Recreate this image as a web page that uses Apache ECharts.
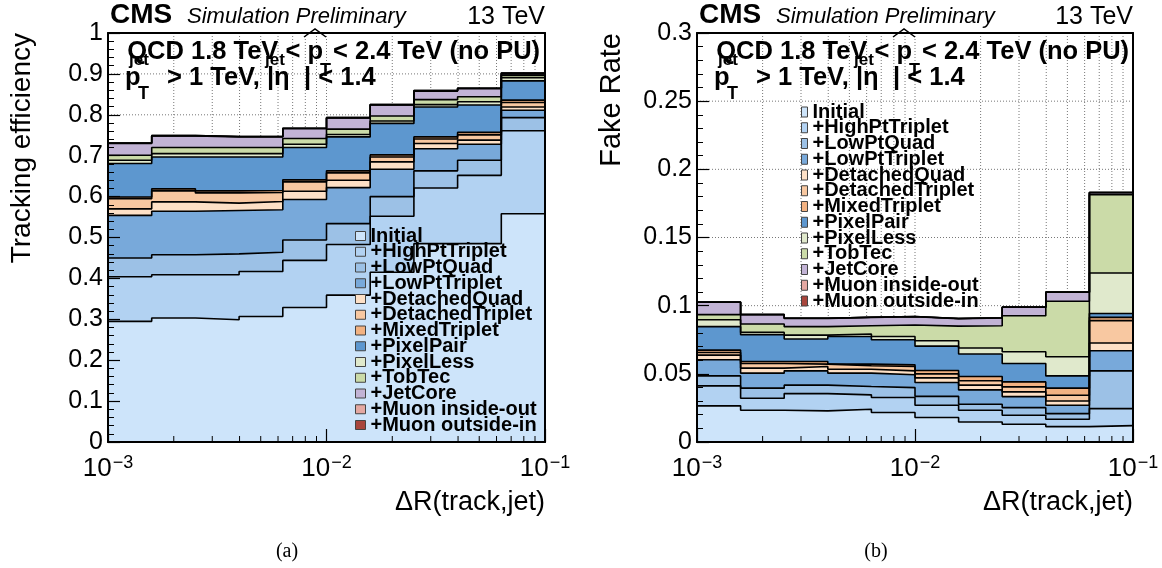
<!DOCTYPE html>
<html><head><meta charset="utf-8">
<script src="https://cdn.jsdelivr.net/npm/echarts@6/dist/echarts.min.js"></script>
<style>html,body{margin:0;padding:0;background:#fff}#c{width:1162px;height:568px}</style>
</head><body><div id="c"></div>
<script>
// ---- data ----
const binEdges = [0.001, 0.001585, 0.002512, 0.003981, 0.006310, 0.01, 0.01585, 0.02512, 0.03981, 0.06310, 0.1];
const iterations = ['Initial', '+HighPtTriplet', '+LowPtQuad', '+LowPtTriplet', '+DetachedQuad', '+DetachedTriplet',
  '+MixedTriplet', '+PixelPair', '+PixelLess', '+TobTec', '+JetCore', '+Muon inside-out', '+Muon outside-in'];
const iterationColors = ['#cde4fa', '#b2d2f2', '#9cc1e6', '#78a9da', '#fde0c6', '#f8c8a1', '#f2b282',
  '#5d97cf', '#e0e9cc', '#cbdba8', '#c2b3d5', '#e4a8a2', '#a8453c'];

// cumulative tracking efficiency after each iteration (panel a)
const effInitial         = [0.295, 0.303, 0.299, 0.307, 0.329, 0.359, 0.415, 0.485, 0.485, 0.558];
const effHighPtTriplet   = [0.404, 0.409, 0.409, 0.417, 0.444, 0.483, 0.552, 0.621, 0.652, 0.761];
const effLowPtQuad       = [0.450, 0.458, 0.460, 0.464, 0.494, 0.534, 0.600, 0.663, 0.689, 0.793];
const effLowPtTriplet    = [0.554, 0.564, 0.566, 0.568, 0.593, 0.622, 0.667, 0.717, 0.728, 0.811];
const effDetachedQuad    = [0.570, 0.587, 0.584, 0.588, 0.613, 0.640, 0.685, 0.730, 0.738, 0.819];
const effDetachedTriplet = [0.595, 0.614, 0.609, 0.610, 0.636, 0.658, 0.697, 0.741, 0.751, 0.830];
const effMixedTriplet    = [0.599, 0.619, 0.614, 0.615, 0.641, 0.663, 0.702, 0.746, 0.757, 0.836];
const effPixelPair       = [0.681, 0.697, 0.697, 0.697, 0.720, 0.746, 0.779, 0.819, 0.824, 0.883];
const effPixelLess       = [0.689, 0.705, 0.705, 0.705, 0.728, 0.752, 0.785, 0.825, 0.832, 0.891];
const effTobTec          = [0.701, 0.720, 0.720, 0.720, 0.742, 0.765, 0.797, 0.837, 0.844, 0.897];
const effJetCore         = [0.730, 0.748, 0.746, 0.746, 0.766, 0.792, 0.824, 0.858, 0.864, 0.900];
const effMuonInsideOut   = [0.731, 0.749, 0.747, 0.747, 0.767, 0.793, 0.825, 0.859, 0.865, 0.902];
const effMuonOutsideIn   = [0.731, 0.749, 0.747, 0.747, 0.767, 0.793, 0.825, 0.859, 0.865, 0.902];

// cumulative fake rate after each iteration (panel b)
const fakeInitial         = [0.0265, 0.0233, 0.0228, 0.0240, 0.0216, 0.0180, 0.0147, 0.0130, 0.0113, 0.0120];
const fakeHighPtTriplet   = [0.0412, 0.0321, 0.0355, 0.0346, 0.0326, 0.0270, 0.0233, 0.0196, 0.0167, 0.0245];
const fakeLowPtQuad       = [0.0485, 0.0395, 0.0417, 0.0407, 0.0399, 0.0335, 0.0277, 0.0252, 0.0208, 0.0522];
const fakeLowPtTriplet    = [0.0603, 0.0505, 0.0522, 0.0505, 0.0493, 0.0436, 0.0382, 0.0333, 0.0270, 0.0669];
const fakeDetachedQuad    = [0.0637, 0.0542, 0.0554, 0.0534, 0.0522, 0.0470, 0.0417, 0.0368, 0.0301, 0.0726];
const fakeDetachedTriplet = [0.0657, 0.0576, 0.0571, 0.0559, 0.0554, 0.0500, 0.0449, 0.0404, 0.0343, 0.0890];
const fakeMixedTriplet    = [0.0674, 0.0591, 0.0591, 0.0571, 0.0566, 0.0525, 0.0480, 0.0441, 0.0395, 0.0914];
const fakePixelPair       = [0.0846, 0.0787, 0.0755, 0.0774, 0.0750, 0.0703, 0.0645, 0.0576, 0.0485, 0.0943];
const fakePixelLess       = [0.0897, 0.0804, 0.0784, 0.0792, 0.0774, 0.0743, 0.0689, 0.0662, 0.0625, 0.1240];
const fakeTobTec          = [0.0934, 0.0865, 0.0846, 0.0853, 0.0858, 0.0850, 0.0853, 0.0926, 0.1032, 0.1814];
const fakeJetCore         = [0.1025, 0.0934, 0.0907, 0.0914, 0.0919, 0.0905, 0.0910, 0.0988, 0.1098, 0.1829];
const fakeMuonInsideOut   = [0.1026, 0.0935, 0.0908, 0.0915, 0.0920, 0.0906, 0.0911, 0.0989, 0.1099, 0.1830];
const fakeMuonOutsideIn   = [0.1026, 0.0935, 0.0908, 0.0915, 0.0920, 0.0906, 0.0911, 0.0989, 0.1099, 0.1830];

const effLayers = [effInitial, effHighPtTriplet, effLowPtQuad, effLowPtTriplet, effDetachedQuad, effDetachedTriplet,
  effMixedTriplet, effPixelPair, effPixelLess, effTobTec, effJetCore, effMuonInsideOut, effMuonOutsideIn];
const fakeLayers = [fakeInitial, fakeHighPtTriplet, fakeLowPtQuad, fakeLowPtTriplet, fakeDetachedQuad, fakeDetachedTriplet,
  fakeMixedTriplet, fakePixelPair, fakePixelLess, fakeTobTec, fakeJetCore, fakeMuonInsideOut, fakeMuonOutsideIn];

// ---- chart ----
const F = 'Liberation Sans, Arial, Helvetica, sans-serif';
const chart = echarts.init(document.getElementById('c'), null, {renderer: 'canvas'});

function stepPoints(vals) {
  const pts = vals.map((v, i) => [binEdges[i], v]);
  pts.push([binEdges[binEdges.length - 1], vals[vals.length - 1]]);
  return pts;
}
// log-axis grid/tick positions (2..9 per decade)
const minorX = [];
for (let d = -3; d < -1; d++) for (let k = 2; k <= 9; k++) minorX.push(+(k * Math.pow(10, d)).toPrecision(3));
const gridX = minorX.concat([0.01]);

const panels = [
  {layers: effLayers, yMax: 1, yStep: 0.1},
  {layers: fakeLayers, yMax: 0.3, yStep: 0.05}
];
const grids = [
  {left: 108, right: 617, top: 33, bottom: 126},
  {left: 697, right: 29, top: 33, bottom: 126}
];
const axisLineStyle = {color: '#000', width: 2};
const xAxis = [], yAxis = [], series = [];
panels.forEach((p, gi) => {
  xAxis.push({
    type: 'log', logBase: 10, gridIndex: gi, position: 'bottom', min: 0.001, max: 0.1, z: 10,
    axisLine: {show: true, onZero: false, lineStyle: axisLineStyle},
    axisTick: {show: true, inside: true, length: 13, lineStyle: {color: '#000', width: 1.2}},
    axisLabel: {
      margin: 12, color: '#000', showMinLabel: true, showMaxLabel: true,
      formatter: v => '{b|10}{s|\u2212' + (-Math.round(Math.log10(v))) + '}',
      rich: {
        b: {fontFamily: F, fontSize: 26, lineHeight: 28, verticalAlign: 'bottom', color: '#000'},
        s: {fontFamily: F, fontSize: 18, lineHeight: 18, verticalAlign: 'top', color: '#000', padding: [0, 0, 0, 1]}
      }
    },
    splitLine: {show: false}
  });
  xAxis.push({
    type: 'log', logBase: 10, gridIndex: gi, position: 'top', min: 0.001, max: 0.1, z: 10,
    axisLine: {show: true, onZero: false, lineStyle: axisLineStyle},
    axisTick: {show: false}, axisLabel: {show: false}, splitLine: {show: false}
  });
  yAxis.push({
    type: 'value', gridIndex: gi, position: 'left', min: 0, max: p.yMax, interval: p.yStep, z: 10,
    axisLine: {show: true, onZero: false, lineStyle: axisLineStyle},
    axisTick: {show: true, inside: true, length: 12, lineStyle: {color: '#000', width: 1.2}},
    minorTick: {show: true, splitNumber: 5, length: 6, lineStyle: {color: '#000', width: 1}},
    axisLabel: {fontFamily: F, fontSize: 25, margin: 5, color: '#000'},
    splitLine: {show: false}
  });
  yAxis.push({
    type: 'value', gridIndex: gi, position: 'right', min: 0, max: p.yMax, interval: p.yStep, z: 10,
    axisLine: {show: true, onZero: false, lineStyle: axisLineStyle},
    axisTick: {show: false}, axisLabel: {show: false}, splitLine: {show: false}
  });
  const xi = gi * 2, yi = gi * 2;
  // dotted grid (under the histograms)
  const hGrid = [];
  for (let y = p.yStep; y < p.yMax - 1e-9; y += p.yStep) hGrid.push(+y.toFixed(4));
  series.push({
    type: 'custom', xAxisIndex: xi, yAxisIndex: yi, z: 1, silent: true,
    data: gridX.map(x => [x, 0]), encode: {x: 0, y: 1},
    renderItem: (params, api) => {
      const a = api.coord([api.value(0), 0]);
      const b = api.coord([api.value(0), p.yMax]);
      return {type: 'line', shape: {x1: a[0], y1: a[1], x2: b[0], y2: b[1]},
        style: {stroke: '#777', lineWidth: 1, lineDash: [1, 2]}};
    }
  });
  series.push({
    type: 'custom', xAxisIndex: xi, yAxisIndex: yi, z: 1, silent: true,
    data: hGrid.map(y => [0.001, y]), encode: {x: 0, y: 1},
    renderItem: (params, api) => {
      const a = api.coord([0.001, api.value(1)]);
      const b = api.coord([0.1, api.value(1)]);
      return {type: 'line', shape: {x1: a[0], y1: a[1], x2: b[0], y2: b[1]},
        style: {stroke: '#777', lineWidth: 1, lineDash: [1, 2]}};
    }
  });
  // stacked step histograms: draw from the top layer down
  for (let k = p.layers.length - 1; k >= 0; k--) {
    series.push({
      type: 'line', name: iterations[k], xAxisIndex: xi, yAxisIndex: yi, step: 'end',
      symbol: 'none', silent: true, z: 2, legendHoverLink: false,
      data: stepPoints(p.layers[k]),
      lineStyle: {color: '#000', width: 1.6},
      itemStyle: {color: iterationColors[k]},
      areaStyle: {color: iterationColors[k], opacity: 1, origin: 'start'}
    });
  }
  // minor ticks on the log x-axis (over the histograms)
  series.push({
    type: 'custom', xAxisIndex: xi, yAxisIndex: yi, z: 10, silent: true,
    data: minorX.map(x => [x, 0]), encode: {x: 0, y: 1},
    renderItem: (params, api) => {
      const a = api.coord([api.value(0), 0]);
      return {type: 'line', shape: {x1: a[0], y1: a[1], x2: a[0], y2: a[1] - 6},
        style: {stroke: '#000', lineWidth: 1}};
    }
  });
});

const legendText = {fontFamily: F, fontWeight: 'bold', fontSize: 20, color: '#000'};
const legends = [
  {data: iterations, left: 355, top: 226, orient: 'vertical', itemWidth: 10, itemHeight: 9, itemGap: -4.25,
   padding: 0, icon: 'rect', selectedMode: false, textStyle: legendText,
   itemStyle: {borderColor: '#444', borderWidth: 1}},
  {data: iterations, left: 801, top: 102, orient: 'vertical', itemWidth: 6, itemHeight: 10, itemGap: -4.25,
   padding: 0, icon: 'rect', selectedMode: false, textStyle: legendText,
   itemStyle: {borderColor: '#444', borderWidth: 1}}
];

function txt(x, y, text, size, opts) {
  opts = opts || {};
  return {type: 'text', x: x, y: y, z: 20, rotation: opts.rotation || 0, silent: true,
    style: {text: text, fontFamily: opts.family || F, fontSize: size, fontWeight: opts.weight || 'normal',
      fontStyle: opts.style || 'normal', fill: '#000', align: opts.align || 'left',
      verticalAlign: opts.valign || 'middle'}};
}
const graphics = [];
[{dx: 0, ytitle: 'Tracking efficiency', ySize: 28, frameR: 545, cap: '(a)', capX: 287},
 {dx: 589, ytitle: 'Fake Rate', ySize: 29, frameR: 1133, cap: '(b)', capX: 876}].forEach(pn => {
  const dx = pn.dx;
  graphics.push(txt(110 + dx, 15, 'CMS', 28, {weight: 'bold'}));
  graphics.push(txt(187 + dx, 17, 'Simulation Preliminary', 22, {style: 'italic'}));
  graphics.push(txt(pn.frameR, 17, '13 TeV', 25, {align: 'right'}));
  // annotation line 1
  graphics.push(txt(323 + dx, 52, 'QCD 1.8 TeV < p', 25.5, {weight: 'bold', align: 'right'}));
  graphics.push({type: 'polyline', z: 20, silent: true,
    shape: {points: [[304 + dx, 37], [315 + dx, 29], [326 + dx, 37]]},
    style: {stroke: '#000', lineWidth: 1.5, fill: null}});
  graphics.push(txt(320 + dx, 71, 'T', 18, {weight: 'bold'}));
  graphics.push(txt(333 + dx, 52, '< 2.4 TeV (no PU)', 25.5, {weight: 'bold'}));
  // annotation line 2
  graphics.push(txt(125 + dx, 78, 'p', 25.5, {weight: 'bold'}));
  graphics.push(txt(129 + dx, 60, 'jet', 17, {weight: 'bold'}));
  graphics.push(txt(138 + dx, 94, 'T', 18, {weight: 'bold'}));
  graphics.push(txt(167 + dx, 78, '> 1 TeV, |\u03b7', 25.5, {weight: 'bold'}));
  graphics.push(txt(265 + dx, 60, 'jet', 17, {weight: 'bold'}));
  graphics.push(txt(304 + dx, 78, '| < 1.4', 25.5, {weight: 'bold'}));
  // axis titles
  graphics.push(txt(8 + dx, 33, pn.ytitle, pn.ySize, {rotation: Math.PI / 2, align: 'right', valign: 'top'}));
  graphics.push(txt(pn.frameR, 503, '\u0394R(track,jet)', 27, {align: 'right'}));
  graphics.push(txt(pn.capX, 552, pn.cap, 20, {family: 'Liberation Serif, DejaVu Serif, serif', align: 'center'}));
});

chart.setOption({
  animation: false,
  backgroundColor: '#fff',
  grid: grids,
  xAxis: xAxis,
  yAxis: yAxis,
  legend: legends,
  series: series,
  graphic: graphics
});
</script>
</body></html>
